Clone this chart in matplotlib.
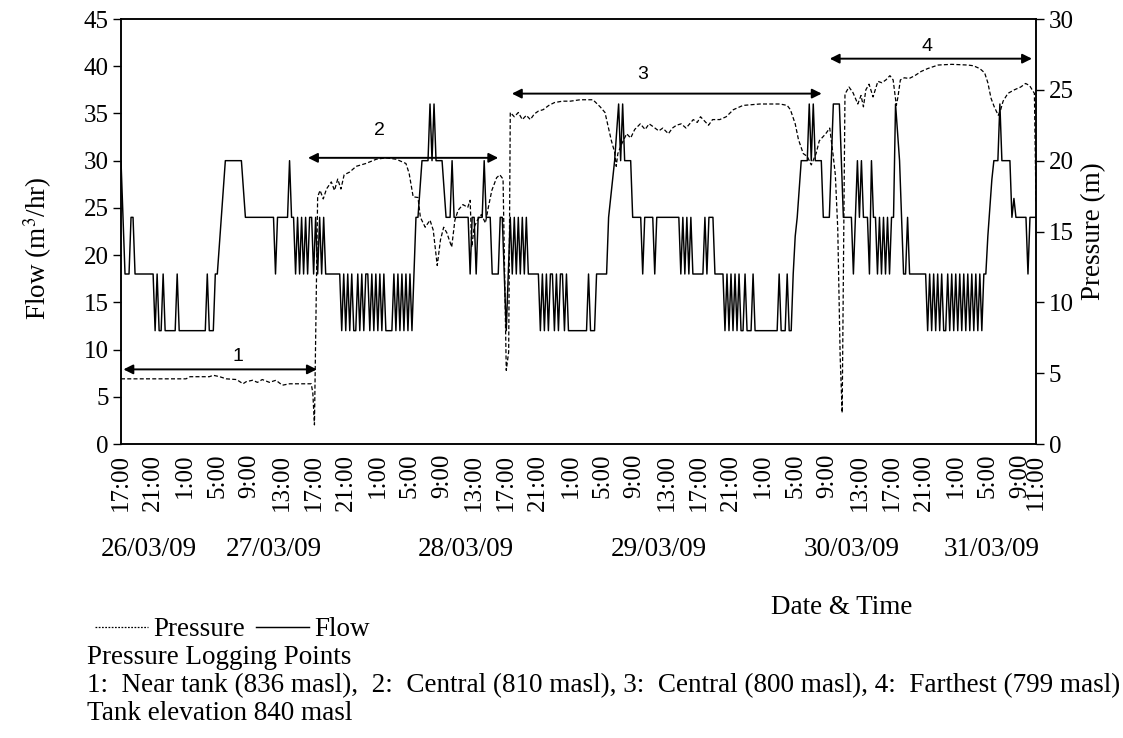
import numpy as np
import pandas as pd
import matplotlib
matplotlib.use("Agg")
import matplotlib.pyplot as plt
import matplotlib.transforms as mtransforms

plt.rcParams['font.family'] = ['Liberation Serif', 'DejaVu Serif']
plt.rcParams['mathtext.fontset'] = 'stix'

start = pd.Timestamp("2009-03-26 17:00")
end = pd.Timestamp("2009-03-31 11:00")

# flow meter readings (m3/hr), one every 15 minutes, one row per 4 hours
flow = [
    30, 24, 18, 18, 18, 24, 24, 18, 18, 18, 18, 18, 18, 18, 18, 18,
    18, 12, 18, 12, 12, 18, 12, 12, 12, 12, 12, 12, 18, 12, 12, 12,
    12, 12, 12, 12, 12, 12, 12, 12, 12, 12, 12, 18, 12, 12, 12, 18,
    18, 21, 24, 27, 30, 30, 30, 30, 30, 30, 30, 30, 30, 27, 24, 24,
    24, 24, 24, 24, 24, 24, 24, 24, 24, 24, 24, 24, 24, 18, 24, 24,
    24, 24, 24, 24, 30, 24, 24, 18, 24, 18, 24, 18, 24, 18, 24, 24,
    18, 24, 18, 24, 18, 24, 18, 18, 18, 18, 18, 18, 18, 18, 12, 18,
    12, 18, 12, 18, 12, 12, 18, 12, 18, 12, 18, 18, 12, 18, 12, 18,
    12, 18, 12, 18, 12, 12, 12, 12, 18, 12, 18, 12, 18, 12, 18, 12,
    18, 12, 18, 24, 24, 27, 30, 30, 30, 30, 36, 30, 36, 30, 30, 30,
    30, 27, 24, 24, 24, 30, 24, 24, 24, 24, 24, 24, 24, 24, 18, 24,
    24, 18, 24, 24, 24, 30, 24, 24, 24, 18, 18, 18, 18, 24, 24, 18,
    12, 18, 24, 18, 24, 18, 24, 18, 24, 18, 24, 18, 18, 18, 18, 18,
    18, 12, 18, 12, 18, 12, 18, 18, 12, 18, 12, 18, 18, 12, 18, 12,
    12, 12, 12, 12, 12, 12, 12, 12, 12, 18, 12, 12, 12, 18, 18, 18,
    18, 18, 18, 24, 26, 28, 30, 33, 36, 30, 36, 30, 30, 30, 30, 24,
    24, 24, 24, 24, 18, 24, 24, 24, 24, 24, 18, 24, 24, 24, 24, 24,
    24, 24, 24, 24, 24, 24, 24, 18, 24, 18, 24, 18, 24, 18, 18, 18,
    18, 18, 18, 24, 18, 24, 24, 24, 18, 18, 18, 18, 18, 12, 18, 12,
    18, 12, 18, 12, 18, 12, 12, 18, 12, 12, 12, 18, 12, 12, 12, 12,
    12, 12, 12, 12, 12, 12, 12, 12, 18, 12, 12, 12, 18, 12, 12, 18,
    22, 24, 27, 30, 30, 30, 30, 36, 30, 36, 30, 30, 30, 30, 24, 24,
    24, 24, 30, 36, 36, 36, 36, 30, 24, 24, 24, 24, 24, 18, 24, 30,
    24, 30, 24, 24, 24, 18, 30, 24, 24, 18, 24, 18, 24, 18, 24, 18,
    24, 24, 36, 33, 30, 24, 18, 18, 24, 18, 18, 18, 18, 18, 18, 18,
    18, 18, 12, 18, 12, 18, 12, 18, 12, 18, 12, 12, 18, 12, 18, 12,
    18, 12, 18, 12, 18, 12, 18, 12, 18, 12, 18, 12, 18, 12, 18, 18,
    22, 25, 28, 30, 30, 30, 36, 30, 30, 30, 30, 30, 24, 26, 24, 24,
    24, 24, 24, 24, 18, 24, 24, 24, 24,
]
flow_times = pd.date_range(start, end, freq="15min")

# pressure logger readings (m), hours after the start
press_hours = [
    0.0, 8.1, 8.6, 11.0, 11.5, 12.3, 13.1, 14.4, 15.2, 15.6, 16.4, 17.0, 17.6,
    18.5, 19.3, 20.1, 21.0, 23.7, 23.9, 24.1,
    24.5, 24.8, 25.2, 25.6, 26.2, 26.6, 27.0, 27.4, 27.8, 28.5, 29.3, 30.5,
    31.8, 33.0, 34.3, 35.5, 35.9, 36.4, 37.0, 37.3, 37.9, 38.5, 38.9, 39.4,
    39.8, 40.2, 40.6, 41.2, 41.6, 42.0, 42.6, 43.2, 43.5, 43.7, 44.0, 44.4,
    44.9, 45.4, 45.8, 46.2, 46.8, 47.2, 47.6, 47.8, 48.0, 48.3,
    48.5, 49.0, 49.5, 50.0, 50.5, 51.0, 51.5, 52.0, 52.6, 53.3, 54.0, 55.0,
    56.0, 57.2, 58.8, 59.7, 60.3, 60.7, 61.1, 61.5, 61.7, 61.9, 62.4, 63.0,
    63.5, 64.0, 64.7, 65.3, 65.8, 66.3, 67.0, 67.5, 68.2, 68.7, 69.2, 69.8,
    70.4, 71.3, 71.8, 72.2, 72.7, 73.2, 73.7, 74.6, 75.4, 76.3, 77.5, 79.6,
    82.1, 83.0, 83.4, 84.0, 84.4, 85.0, 85.5, 86.0, 86.6, 87.0, 87.8, 88.3,
    88.7, 89.0, 89.3, 89.6, 89.85,
    90.2, 90.7, 91.2, 91.8, 92.2, 92.5, 92.8, 93.2, 93.7, 94.3, 94.8, 95.3,
    95.8, 96.2, 96.4, 96.6, 96.8, 97.1, 97.6, 98.2, 98.9, 99.7, 100.5, 101.8,
    103.5, 105.5, 106.2, 107.0, 107.6, 108.0, 108.4, 108.8, 109.3, 109.6,
    109.9, 110.5, 111.3, 112.1, 112.7, 113.2, 113.8, 113.9, 114.0,
]
press_m = [
    4.6, 4.6, 4.75, 4.75, 4.85, 4.75, 4.6, 4.55, 4.25, 4.4, 4.5, 4.35, 4.55,
    4.35, 4.5, 4.15, 4.25, 4.25, 3.6, 1.35,
    17.45, 17.9, 17.3, 18.0, 18.5, 17.9, 18.7, 18.0, 19.0, 19.2, 19.6, 19.8,
    20.1, 20.2, 20.1, 19.8, 19.1, 17.45, 17.4, 16.0, 15.3, 15.8, 15.1, 12.6,
    14.4, 15.3, 14.9, 13.9, 15.8, 16.5, 16.9, 16.7, 17.2, 13.9, 15.3, 15.8,
    16.2, 15.6, 16.8, 17.9, 18.8, 19.0, 18.7, 12.0, 5.2, 6.5,
    23.4, 23.1, 23.4, 22.9, 23.2, 22.9, 23.3, 23.5, 23.6, 23.9, 24.1, 24.2,
    24.2, 24.3, 24.3, 23.8, 23.4, 22.4, 21.4, 20.6, 19.6, 20.5, 21.2, 21.9,
    21.6, 22.2, 22.6, 22.2, 22.6, 22.4, 22.1, 22.3, 21.9, 22.3, 22.5, 22.6,
    22.3, 22.9, 22.7, 23.1, 22.8, 22.5, 22.9, 22.9, 23.1, 23.6, 23.9, 24.0,
    24.0, 23.9, 23.6, 22.6, 21.5, 20.5, 20.3, 19.7, 20.5, 21.4, 21.9, 22.3,
    20.5, 19.0, 15.2, 6.2, 2.2,
    24.7, 25.2, 24.8, 24.0, 24.6, 23.8, 25.0, 25.4, 24.5, 25.6, 25.5, 25.7,
    26.0, 25.7, 24.8, 23.9, 24.5, 25.7, 25.85, 25.8, 26.0, 26.3, 26.5, 26.75,
    26.8, 26.75, 26.7, 26.5, 26.2, 25.5, 24.4, 23.8, 23.2, 23.6,
    24.2, 24.75, 25.0, 25.2, 25.45, 25.3, 24.75, 21.0, 17.0,
]

# logging point periods: name, from / to (hours after start), flow level of the arrow
zone_names = ["1", "2", "3", "4"]
zone_from = [0.3, 23.3, 48.7, 88.3]
zone_to = [24.4, 47.0, 87.3, 113.5]
zone_level = [7.9, 30.3, 37.1, 40.8]
zone_label_at = [14.6, 32.2, 65.0, 100.4]
zone_label_off = [9.5, 20.0, 13.5, 8.5]

date_names = ["26/03/09", "27/03/09", "28/03/09", "29/03/09", "30/03/09", "31/03/09"]
date_at = pd.to_datetime(["2009-03-26 20:30", "2009-03-27 12:00", "2009-03-28 12:00",
                          "2009-03-29 12:00", "2009-03-30 12:00", "2009-03-31 05:30"])

notes = [
    "Pressure Logging Points",
    "1:  Near tank (836 masl),  2:  Central (810 masl), 3:  Central (800 masl), 4:  Farthest (799 masl)",
    "Tank elevation 840 masl",
]

hour = pd.Timedelta("1h")
flow_h = (flow_times - start) / hour
date_h = (date_at - start) / hour
tick_times = list(pd.date_range(start, end, freq="4h")) + [end]
tick_h = [(t - start) / hour for t in tick_times]
tick_labels = [f"{t.hour}:00" for t in tick_times]

fs = 18      # tick labels
fs_txt = 19.5  # titles, dates and notes
fig = plt.figure(figsize=(11.23, 7.38), dpi=100)
ax = fig.add_axes([121 / 1123, 1 - 444 / 738, 915 / 1123, 425 / 738])
ax2 = ax.twinx()

fl, = ax.plot(flow_h, flow, color="black", lw=1.05)
pl, = ax2.plot(press_hours, press_m, color="black", lw=0.9, linestyle=(0, (3.2, 1.8)))

ax.set_xlim(0, 114)
ax.set_ylim(0, 45)
ax2.set_ylim(0, 30)
ax.set_yticks(range(0, 46, 5))
ax2.set_yticks(range(0, 31, 5))
ax.set_xticks(tick_h)
ax.set_xticklabels(tick_labels, rotation=90, fontsize=fs)
ax.tick_params(axis="x", length=0, pad=7)
for a in (ax, ax2):
    a.tick_params(axis="y", direction="out", length=6, width=1.0, labelsize=fs, pad=3)
    for s in a.spines.values():
        s.set_linewidth(1.1)

ax.set_ylabel("Flow (m$^3$/hr)", fontsize=fs_txt)
ax2.set_ylabel("Pressure (m)", fontsize=fs_txt)
ax.yaxis.set_label_coords(-0.073, 0.46)
ax2.yaxis.set_label_coords(1.049, 0.5)

# double arrows marking where the pressure logger sat
for name, a, b, lvl, lx, off in zip(zone_names, zone_from, zone_to, zone_level,
                                     zone_label_at, zone_label_off):
    ax.annotate("", xy=(b, lvl), xytext=(a, lvl),
                arrowprops=dict(arrowstyle="<|-|>", color="black", lw=1.4,
                                mutation_scale=14, shrinkA=0, shrinkB=0))
    ax.annotate(name, xy=(lx, lvl), xytext=(0, off), textcoords="offset points",
                ha="center", va="center", fontsize=14, family="Liberation Sans")

trans = mtransforms.blended_transform_factory(ax.transData, fig.transFigure)
for name, x in zip(date_names, date_h):
    ax.text(x, 1 - 550 / 738, name, transform=trans, ha="center", va="center",
            fontsize=fs_txt, clip_on=False)

fig.text(842 / 1123, 1 - 607 / 738, "Date & Time", ha="center", va="center", fontsize=fs_txt)

leg = fig.legend([pl, fl], ["Pressure", "Flow"], loc="center left",
                 bbox_to_anchor=(95 / 1123, 1 - 630 / 738), ncol=2, frameon=False,
                 fontsize=fs_txt, handlelength=1.95, handletextpad=0.22, columnspacing=0.38,
                 borderpad=0, borderaxespad=0)
leg.get_lines()[0].set_linestyle((0, (1.4, 1.2)))

for i, line in enumerate(notes):
    fig.text(87 / 1123, 1 - (658 + 28 * i) / 738, line, ha="left", va="center", fontsize=fs_txt)

fig.savefig("out.png", dpi=100)
